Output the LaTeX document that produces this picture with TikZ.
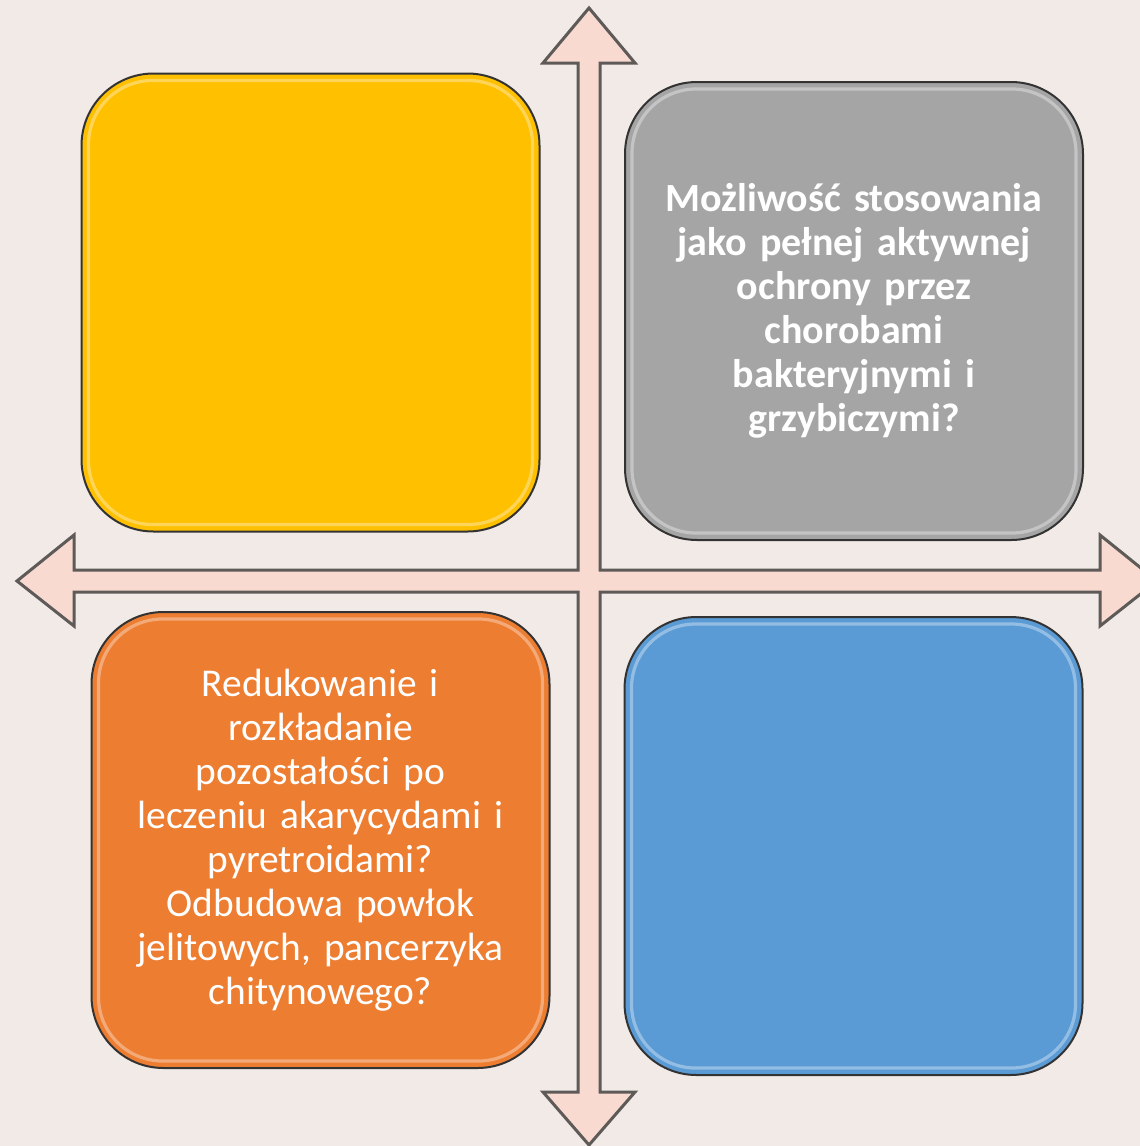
\documentclass[tikz,border=0pt]{standalone}
\usepackage{fontspec}
\setmainfont{Carlito}
\definecolor{bgpaper}{HTML}{F1EAE7}
\definecolor{crossfill}{HTML}{F8DAD1}
\definecolor{crossline}{HTML}{5E5A58}
\definecolor{qyellow}{HTML}{FFC000}
\definecolor{qgray}{HTML}{A5A5A5}
\definecolor{qorange}{HTML}{ED7D31}
\definecolor{qblue}{HTML}{5B9BD5}
\begin{document}
\begin{tikzpicture}[x=0.5pt,y=-0.5pt,
  quad/.style={draw=black!80,line width=1pt,rounded corners=36pt,
    minimum width=229pt,minimum height=229pt,inner sep=0pt,
    text=white,align=center,text width=210pt,
    font=\fontsize{19.7}{22}\selectfont},
  gloss/.style={draw=white,line width=1.6pt,opacity=0.35,rounded corners=32pt}]
\useasboundingbox (0,0) rectangle (1140,1146);
\clip (0,0) rectangle (1140,1146);
\fill[bgpaper] (0,0) rectangle (1140,1146);
% cross with four heads
\draw[fill=crossfill,draw=crossline,line width=1.5pt,line join=miter]
  (589,8) -- (635,63) -- (600,63) -- (600,570) -- (1100,570) -- (1100,535)
  -- (1157,581) -- (1100,626) -- (1100,592) -- (600,592) -- (600,1092)
  -- (635,1092) -- (589,1145) -- (543,1092) -- (578,1092) -- (578,592)
  -- (74,592) -- (74,626) -- (17,581) -- (74,535) -- (74,570) -- (578,570)
  -- (578,63) -- (543,63) -- cycle;
% quadrants
\node[quad,fill=qyellow] (Q1) at (310.5,302.5) {};
\node[quad,fill=qgray,font=\fontsize{20}{22}\selectfont\bfseries] (Q2) at (854,311)
  {Możliwość stosowania\\jako pełnej aktywnej\\ochrony przez\\chorobami\\bakteryjnymi i\\grzybiczymi?};
\node[quad,fill=qorange,minimum height=228pt] (Q3) at (320.5,840)
  {Redukowanie i\\rozkładanie\\pozostałości po\\leczeniu akarycydami i\\pyretroidami?\\Odbudowa powłok\\jelitowych, pancerzyka\\chitynowego?};
\node[quad,fill=qblue] (Q4) at (853.5,846) {};
\foreach \q in {Q1,Q2,Q3,Q4}
  \draw[gloss] ([shift={(4pt,-4pt)}]\q.north west) rectangle ([shift={(-4pt,4pt)}]\q.south east);
\end{tikzpicture}
\end{document}
